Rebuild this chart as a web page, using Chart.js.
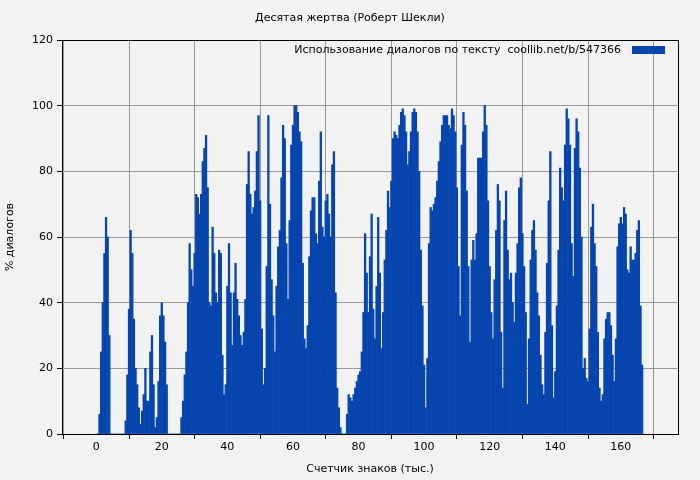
<!DOCTYPE html>
<html><head><meta charset="utf-8">
<script src="https://cdn.jsdelivr.net/npm/chart.js@4"></script>
<style>html,body{margin:0;padding:0;background:#f2f2f2}</style>
</head><body>
<canvas id="c" width="700" height="480" style="display:block;width:700px;height:480px"></canvas>
<script>
const title = "Десятая жертва (Роберт Шекли)";
const seriesName = "Использование диалогов по тексту  coollib.net/b/547366";
const xStart = 0, xStep = 0.5;
const dialogPct = [
0,0,6,25,40,55,66,60,30,0,
0,0,0,0,0,0,0,0,
4,18,38,62,55,35,20,15,8,3,
7,12,20,10,10,25,30,15,2,
5,16,36,40,36,28,15,
0,0,0,0,0,0,0,0,
5,10,18,25,40,58,50,45,
55,73,72,67,73,83,87,91,75,40,39,63,55,43,40,56,55,24,12,15,45,58,43,27,43,52,
41,36,30,27,31,41,76,86,73,67,69,74,86,97,71,32,15,20,51,97,70,47,36,25,45,57,62,78,94,90,58,41,65,88,94,100,100,98,92,89,52,29,26,33,54,68,72,72,61,58,77,92,63,60,71,73,67,60,82,86,43,14,8,2,0,0,0,
6,12,11,10,12,14,16,18,19,25,37,61,49,37,54,67,38,29,45,66,49,26,37,53,62,74,69,77,90,92,91,90,94,98,99,97,92,82,86,92,98,99,98,92,80,56,39,21,8,23,58,69,68,70,72,77,83,89,94,97,97,97,94,93,99,97,92,75,51,36,88,98,94,74,51,28,53,59,53,61,84,84,84,92,100,94,71,51,37,29,47,62,76,71,31,14,65,74,56,47,
49,40,34,49,58,75,78,61,51,37,9,29,53,62,65,56,43,36,24,15,12,31,52,71,86,33,11,19,39,56,81,75,71,88,99,96,88,58,48,87,96,92,81,60,20,23,17,16,32,63,70,58,51,31,14,10,12,29,35,37,37,33,24,16,29,57,64,66,64,69,67,50,49,57,53,53,55,62,65,39,21
];
const yTicks = [0,20,40,60,80,100,120];
const xTicks = [0,20,40,60,80,100,120,140,160];

const pts = dialogPct.map((v,i)=>({x:xStart+i*xStep,y:v}));
const font = "DejaVu Sans";
const deco = {
  id:'deco',
  afterDraw(ch){
    const c=ch.ctx, a=ch.chartArea;
    c.save();
    c.strokeStyle='#000';c.lineWidth=1;
    c.strokeRect(Math.round(a.left)+0.5,Math.round(a.top)+0.5,Math.round(a.right-a.left),Math.round(a.bottom-a.top));
    c.fillStyle='#000';c.font='11px "'+font+'"';c.textAlign='center';c.textBaseline='middle';
    c.fillText(title,350,18);
    c.textAlign='right';
    c.fillText(seriesName,621,50);
    c.fillStyle='#0645ad';c.fillRect(632,46,33,8);
    c.restore();
  }
};
new Chart(document.getElementById('c'),{
  type:'bar',
  data:{datasets:[{data:pts,backgroundColor:'#0645ad',borderWidth:0,barPercentage:1,categoryPercentage:1}]},
  options:{
    animation:false,responsive:false,devicePixelRatio:1,
    layout:{padding:{top:40,right:22,left:0,bottom:0}},
    plugins:{legend:{display:false},tooltip:{enabled:false}},
    scales:{
      x:{type:'linear',min:0,max:167,
        afterBuildTicks(s){s.ticks=xTicks.map(v=>({value:v}));},
        grid:{color:'#999',borderDash:[3,3],drawTicks:true,tickLength:5,tickColor:'#000'},
        border:{display:false},
        ticks:{color:'#000',font:{family:font,size:11},maxRotation:0,padding:2},
        title:{display:true,text:'Счетчик знаков (тыс.)',color:'#000',font:{family:font,size:11},padding:{top:2}},
        afterFit(s){s.height=46;}},
      y:{min:0,max:120,
        afterBuildTicks(s){s.ticks=yTicks.map(v=>({value:v}));},
        grid:{color:'#999',borderDash:[3,3],tickLength:5,tickColor:'#000'},
        border:{display:false},
        ticks:{color:'#000',font:{family:font,size:11},padding:4},
        title:{display:true,text:'% диалогов',color:'#000',font:{family:font,size:11}},
        afterFit(s){s.width=62;}}
    }
  },
  plugins:[deco]
});
</script>
</body></html>
